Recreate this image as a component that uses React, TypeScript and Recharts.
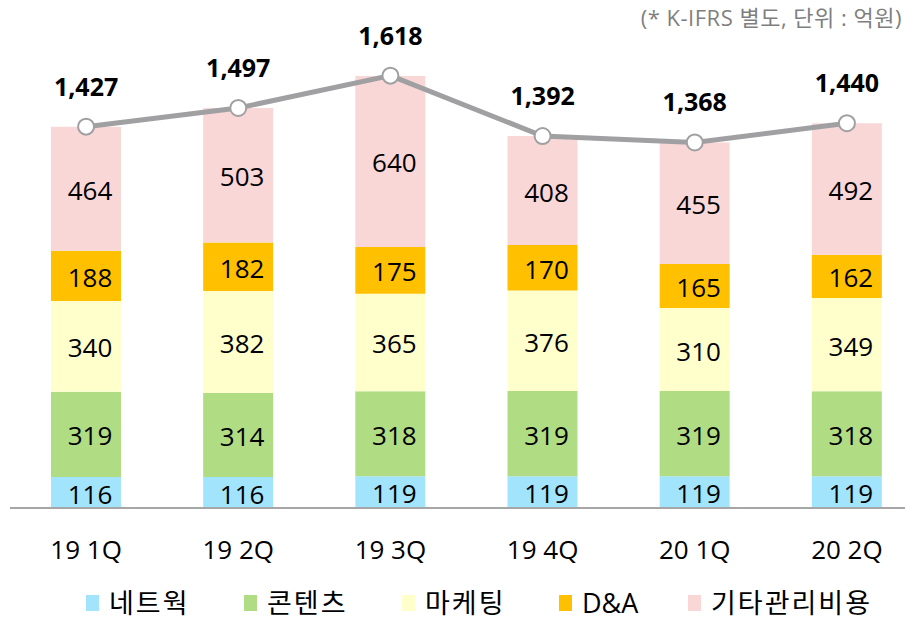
import React from "react";
import { ComposedChart, Bar, Line, XAxis, YAxis, LabelList } from "recharts";

const categories = ["19 1Q", "19 2Q", "19 3Q", "19 4Q", "20 1Q", "20 2Q"];
const network = [116, 116, 119, 119, 119, 119];
const contents = [319, 314, 318, 319, 319, 318];
const marketing = [340, 382, 365, 376, 310, 349];
const dna = [188, 182, 175, 170, 165, 162];
const others = [464, 503, 640, 408, 455, 492];
const totals = [1427, 1497, 1618, 1392, 1368, 1440];

const seriesNames = ["네트웍", "콘텐츠", "마케팅", "D&A", "기타관리비용"];
const seriesKeys = ["network", "contents", "marketing", "dna", "others"];
const colors = ["#A2E4FB", "#B0DC83", "#FFFFCC", "#FFC000", "#F9D7D7"];
const legendLeft = [86, 244, 402, 559, 688];

const data = categories.map((c, i) => ({
  name: c,
  network: network[i],
  contents: contents[i],
  marketing: marketing[i],
  dna: dna[i],
  others: others[i],
  total: totals[i],
}));

const FONT = "'Open Sans', 'Noto Sans CJK KR', sans-serif";

const BarLabel = (props: any) => {
  const { x, y, width, height, value } = props;
  return (
    <text
      x={x + width / 2 + 4}
      y={y + height / 2 + 1}
      textAnchor="middle"
      dominantBaseline="central"
      fontSize={26}
      fontFamily={FONT}
      fill="#000"
    >
      {value}
    </text>
  );
};

const TotalLabel = (props: any) => {
  const { x, y, value } = props;
  return (
    <text
      x={x}
      y={y - 41}
      textAnchor="middle"
      dominantBaseline="central"
      fontSize={25}
      fontWeight="bold"
      fontFamily={FONT}
      fill="#000"
    >
      {Number(value).toLocaleString("en-US")}
    </text>
  );
};

export default function App() {
  return (
    <div
      style={{
        position: "absolute",
        left: 0,
        top: 0,
        width: 905,
        height: 617,
        overflow: "hidden",
        background: "#fff",
      }}
    >
      <div
        style={{
          position: "absolute",
          right: 3,
          top: 0,
          fontFamily: FONT,
          fontSize: 22,
          letterSpacing: 0.5,
          color: "#7F7F7F",
          whiteSpace: "nowrap",
          zIndex: 2,
        }}
      >
        (* K-IFRS 별도, 단위 : 억원)
      </div>
      <ComposedChart
        width={925}
        height={617}
        data={data}
        margin={{ top: 27, right: 2, bottom: 49, left: 10 }}
      >
        <XAxis
          dataKey="name"
          axisLine={{ stroke: "#A6A6A6", strokeWidth: 2 }}
          tickLine={false}
          tickMargin={27}
          height={60}
          tick={{ fontSize: 26, fill: "#000", fontFamily: FONT }}
        />
        <YAxis hide domain={[0, 1800]} />
        {seriesKeys.map((k, i) => (
          <Bar
            key={k}
            dataKey={k}
            name={seriesNames[i]}
            stackId="a"
            fill={colors[i]}
            barSize={70}
            isAnimationActive={false}
          >
            <LabelList dataKey={k} content={BarLabel} />
          </Bar>
        ))}
        <Line
          type="linear"
          dataKey="total"
          stroke="#A0A0A3"
          strokeWidth={5}
          dot={{ r: 8, fill: "#fff", stroke: "#A0A0A3", strokeWidth: 2 }}
          isAnimationActive={false}
        >
          <LabelList dataKey="total" content={TotalLabel} />
        </Line>
      </ComposedChart>
      {seriesNames.map((n, i) => (
        <div
          key={n}
          style={{
            position: "absolute",
            left: legendLeft[i],
            top: 589,
            height: 28,
            display: "flex",
            alignItems: "center",
            fontFamily: FONT,
            fontSize: 27,
            letterSpacing: i === 3 ? 0 : 2,
            lineHeight: "28px",
            color: "#000",
            whiteSpace: "nowrap",
          }}
        >
          <span
            style={{
              display: "inline-block",
              width: 13,
              height: 16,
              background: colors[i],
              marginRight: 10,
            }}
          />
          <span>{n}</span>
        </div>
      ))}
    </div>
  );
}
